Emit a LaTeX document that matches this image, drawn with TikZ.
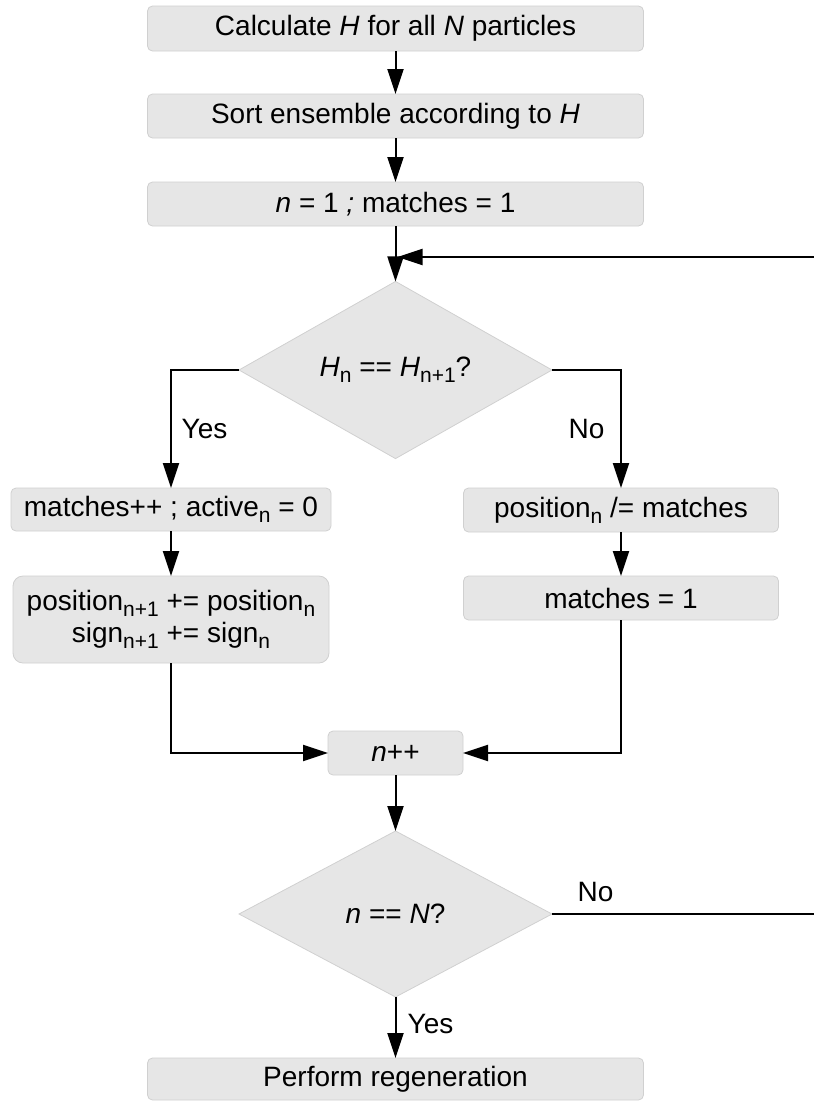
\documentclass[tikz,border=0pt]{standalone}
\usepackage{fontspec}
\setmainfont{Liberation Sans}
\usetikzlibrary{shapes.geometric,arrows.meta}
\definecolor{boxfill}{HTML}{E6E6E6}
\definecolor{boxline}{HTML}{D0D0D0}
% lowered, smaller upright index
\newcommand{\sbs}[1]{\raisebox{-6pt}{\fontsize{21}{24}\selectfont #1}}

\begin{document}
\begin{tikzpicture}[x=1pt,y=-1pt,
  every node/.style={font=\fontsize{28}{32}\selectfont, text=black, outer sep=0pt, inner sep=0pt},
  procbox/.style={draw=boxline, line width=0.8pt, fill=boxfill, rounded corners=5pt, align=center},
  decbox/.style={diamond, draw=boxline, line width=0.8pt, fill=boxfill,
                 minimum width=313pt, minimum height=166pt},
  flow/.style={line width=2pt, -{Triangle[length=25pt,width=16pt]}},
  branchlabel/.style={anchor=center}]

\useasboundingbox (0,0) rectangle (814,1101);
\clip (0,0) rectangle (814,1101);

% main column
\node[procbox, minimum width=496pt, minimum height=45pt] (calc) at (395.5,28.5)
  {Calculate \textit{H} for all \textit{N} particles};
\node[procbox, minimum width=496pt, minimum height=44pt] (sort) at (395.5,116)
  {Sort ensemble according to \textit{H}};
\node[procbox, minimum width=496pt, minimum height=44pt] (init) at (395.5,204)
  {\textit{n} = 1 \textit{;} matches = 1};
\coordinate (join) at (397.5,257);

\node[decbox] (same) at (395.5,370)
  {\textit{H}\sbs{n} == \textit{H}\sbs{n+1}?};

% "Yes" branch
\node[procbox, minimum width=320pt, minimum height=43pt] (merge) at (171,509.5)
  {matches++ ; active\sbs{n} = 0};
\node[procbox, rounded corners=10pt, minimum width=316pt, minimum height=87pt] (accum) at (171,619.5)
  {position\sbs{n+1} += position\sbs{n}\\sign\sbs{n+1} += sign\sbs{n}};

% "No" branch
\node[procbox, minimum width=315pt, minimum height=44pt] (norm) at (621,510)
  {position\sbs{n} /= matches};
\node[procbox, minimum width=315pt, minimum height=44pt] (reset) at (621,598)
  {matches = 1};

\node[procbox, minimum width=135pt, minimum height=44pt] (incr) at (395.5,753)
  {\textit{n}++};

\node[decbox] (done) at (395.5,914)
  {\textit{n} == \textit{N}?};

\node[procbox, minimum width=496pt, minimum height=42pt] (regen) at (395.5,1079)
  {Perform regeneration};

% labels
\node[branchlabel] (yesA) at (204.5,429) {Yes};
\node[branchlabel] (noA) at (586.5,429) {No};
\node[branchlabel] (noB) at (595.5,892) {No};
\node[branchlabel] (yesB) at (430.5,1024) {Yes};

% connectors
\draw[flow] (calc.south) -- (sort.north);
\draw[flow] (sort.south) -- (init.north);
\draw[flow] (init.south) -- (same.north);
\draw[flow] (same.west) -| (merge.north);
\draw[flow] (same.east) -| (norm.north);
\draw[flow] (merge.south) -- (accum.north);
\draw[flow] (norm.south) -- (reset.north);
\draw[flow] (accum.south) |- (incr.west);
\draw[flow] (reset.south) |- (incr.east);
\draw[flow] (incr.south) -- (done.north);
\draw[flow] (done.south) -- (regen.north);
\draw[flow] (done.east) -- (830,914) |- (join);

\end{tikzpicture}
\end{document}
